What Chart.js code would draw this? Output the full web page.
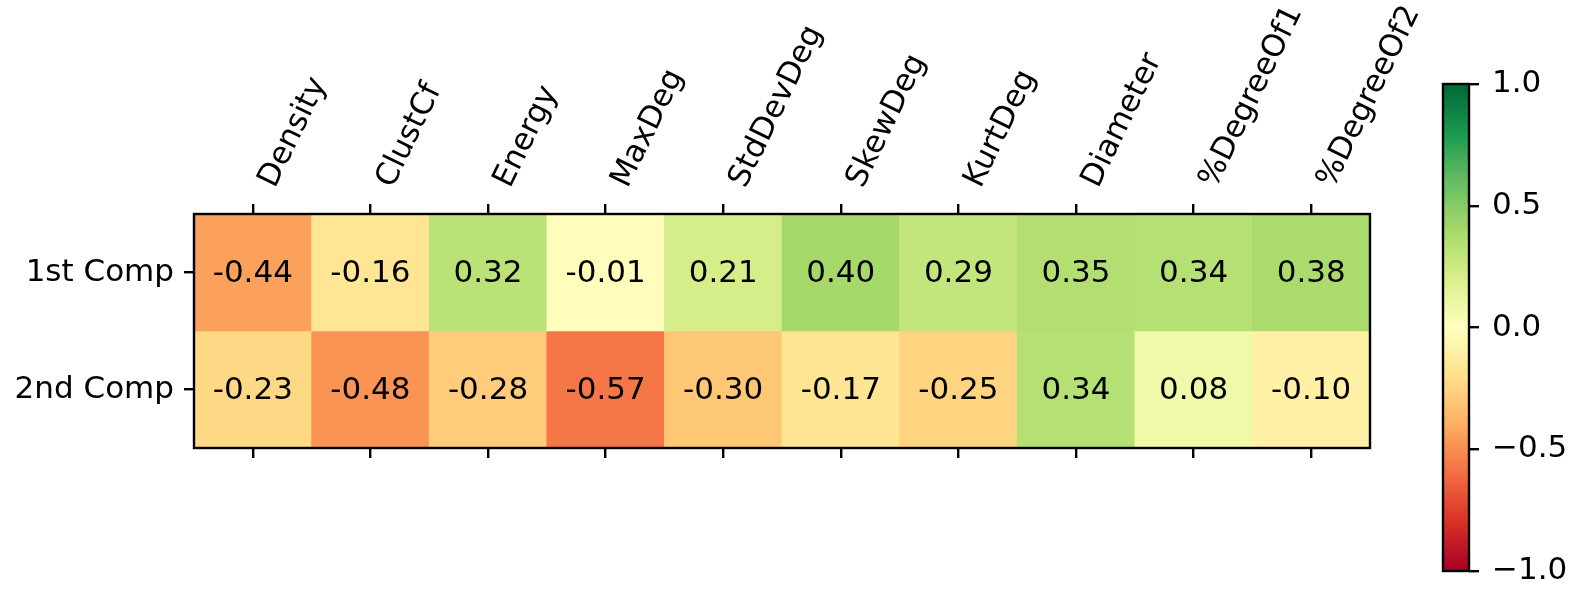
<!DOCTYPE html>
<html><head><meta charset="utf-8">
<script src="https://cdn.jsdelivr.net/npm/chart.js@4.4.0/dist/chart.umd.min.js"></script>
<style>
html,body{margin:0;padding:0;background:#fff;}
#wrap{position:relative;width:1573px;height:608px;background:#fff;}
canvas{position:absolute;left:0;top:0;}
</style></head><body>
<div id="wrap"><canvas id="main" width="1573" height="608" style="width:1573px;height:608px"></canvas><canvas id="cbar" width="1573" height="608" style="width:1573px;height:608px"></canvas></div>
<script>
const columns = ['Density','ClustCf','Energy','MaxDeg','StdDevDeg','SkewDeg','KurtDeg','Diameter','%DegreeOf1','%DegreeOf2'];
const rowLabels = ['1st Comp','2nd Comp'];
const firstComp = [-0.44,-0.16,0.32,-0.01,0.21,0.40,0.29,0.35,0.34,0.38];
const secondComp = [-0.23,-0.48,-0.28,-0.57,-0.30,-0.17,-0.25,0.34,0.08,-0.10];
const colorbarTicks = [-1,-0.5,0,0.5,1];
const rdylgn = ['#a50026','#d73027','#f46d43','#fdae61','#fee08b','#ffffbf','#d9ef8b','#a6d96a','#66bd63','#1a9850','#006837'];

const FONT = 'DejaVu Sans';
const FSIZE = 31;
function hexToRgb(h){return [parseInt(h.slice(1,3),16),parseInt(h.slice(3,5),16),parseInt(h.slice(5,7),16)];}
function colorFor(v){
  let t = (v+1)/2; t = Math.max(0,Math.min(1,t));
  const p = t*10; let i = Math.floor(p); if(i>=10) i=9;
  const f = p-i;
  const a = hexToRgb(rdylgn[i]), b = hexToRgb(rdylgn[i+1]);
  const c = a.map((x,k)=>Math.round(x+(b[k]-x)*f));
  return `rgb(${c[0]},${c[1]},${c[2]})`;
}

const tickGrid = {drawOnChartArea:false, drawTicks:true, tickLength:10, color:'#000', lineWidth:2.4, offset:false};

const mainPlugin = {
  id:'heatText',
  afterDatasetsDraw(chart){
    const ctx = chart.ctx, ca = chart.chartArea;
    ctx.save();
    ctx.fillStyle = '#000';
    ctx.font = `${FSIZE}px "${FONT}"`;
    ctx.textAlign = 'center';
    ctx.textBaseline = 'middle';
    chart.data.datasets.forEach((ds,di)=>{
      const meta = chart.getDatasetMeta(di);
      meta.data.forEach((el,i)=>{
        const c = el.getCenterPoint();
        ctx.fillText(ds.values[i].toFixed(2), c.x, c.y+1);
      });
    });
    ctx.strokeStyle = '#000';
    ctx.lineWidth = 2.4;
    ctx.strokeRect(ca.left, ca.top, ca.right-ca.left, ca.bottom-ca.top);
    const sx = chart.scales.x2;
    ctx.textAlign = 'left';
    ctx.textBaseline = 'alphabetic';
    columns.forEach((lab,i)=>{
      const x = sx.getPixelForValue(i);
      ctx.save();
      ctx.translate(x+22, ca.top-25);
      ctx.rotate(-64*Math.PI/180);
      ctx.fillText(lab, 0, 0);
      ctx.restore();
    });
    ctx.restore();
  }
};

new Chart(document.getElementById('main'), {
  type:'bar',
  data:{
    labels: columns,
    datasets:[
      {label:rowLabels[0], values:firstComp, data: firstComp.map(()=>[1,2]), backgroundColor: firstComp.map(colorFor), borderWidth:0, grouped:false, barPercentage:1, categoryPercentage:1},
      {label:rowLabels[1], values:secondComp, data: secondComp.map(()=>[0,1]), backgroundColor: secondComp.map(colorFor), borderWidth:0, grouped:false, barPercentage:1, categoryPercentage:1}
    ]
  },
  options:{
    responsive:false, animation:false, devicePixelRatio:1,
    layout:{padding:{left:0, top:0, right:1573-1370, bottom:0}},
    plugins:{legend:{display:false}, tooltip:{enabled:false}},
    scales:{
      x:{type:'category', position:'bottom', offset:true, grid:tickGrid, border:{display:false}, ticks:{display:false}, afterFit(s){s.height = 608-448;}},
      x2:{type:'category', position:'top', labels:columns, offset:true, grid:tickGrid, border:{display:false}, ticks:{display:false}, afterFit(s){s.height = 214;}},
      y:{type:'linear', position:'left', min:0, max:2,
         afterBuildTicks(s){ s.ticks = [{value:0.5},{value:1.5}]; },
         ticks:{callback:(v)=> v===1.5 ? rowLabels[0] : rowLabels[1], font:{family:FONT, size:FSIZE}, color:'#000', padding:10},
         grid:tickGrid, border:{display:false}, afterFit(s){s.width = 194;}}
    }
  },
  plugins:[mainPlugin]
});

const cbarPlugin = {
  id:'cbarBox',
  afterDatasetsDraw(chart){
    const ctx = chart.ctx, ca = chart.chartArea;
    ctx.save();
    ctx.strokeStyle = '#000';
    ctx.lineWidth = 2.4;
    ctx.strokeRect(ca.left, ca.top, ca.right-ca.left, ca.bottom-ca.top);
    ctx.restore();
  }
};

new Chart(document.getElementById('cbar'), {
  type:'bar',
  data:{
    labels:['colorbar'],
    datasets:[{
      data:[[-1,1]], borderWidth:0, barPercentage:1, categoryPercentage:1,
      backgroundColor:(c)=>{
        const ca = c.chart.chartArea;
        if(!ca) return rdylgn[5];
        const g = c.chart.ctx.createLinearGradient(0, ca.bottom, 0, ca.top);
        rdylgn.forEach((col,i)=>g.addColorStop(i/10, col));
        return g;
      }
    }]
  },
  options:{
    responsive:false, animation:false, devicePixelRatio:1,
    layout:{padding:{left:1443, top:84, bottom:608-571, right:0}},
    plugins:{legend:{display:false}, tooltip:{enabled:false}},
    scales:{
      x:{display:false, offset:true},
      y:{type:'linear', position:'right', min:-1, max:1,
         afterBuildTicks(s){ s.ticks = colorbarTicks.map(v=>({value:v})); },
         ticks:{callback:(v)=> v.toFixed(1).replace('-', '\u2212'), font:{family:FONT, size:FSIZE}, color:'#000', padding:13},
         grid:{drawOnChartArea:false, drawTicks:true, tickLength:10, color:'#000', lineWidth:2.4},
         border:{display:false}, afterFit(s){s.width = 1573-1469;}}
    }
  },
  plugins:[cbarPlugin]
});
</script>
</body></html>
